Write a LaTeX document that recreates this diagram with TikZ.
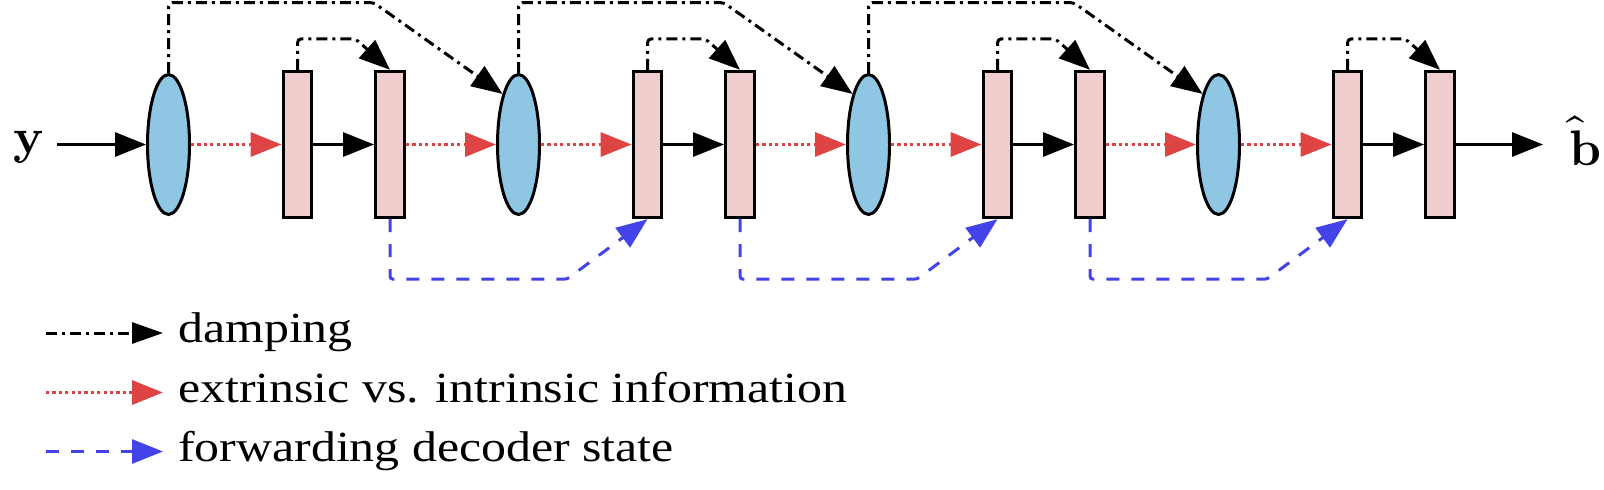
\documentclass[tikz,border=0pt]{standalone}
\usepackage{fontspec}
\usepackage{unicode-math}
\setmainfont{Liberation Serif}[FakeStretch=1.16]
\setmathfont{Latin Modern Math}
\usetikzlibrary{arrows.meta,shapes.geometric,calc}
\definecolor{ellfill}{RGB}{142,198,228}
\definecolor{blkfill}{RGB}{241,206,206}
\definecolor{redarr}{RGB}{222,68,68}
\definecolor{bluearr}{RGB}{67,67,232}
\tikzset{
  ellnode/.style={ellipse, draw=black, line width=3pt, fill=ellfill, minimum width=42pt, minimum height=140pt, inner sep=0pt},
  blknode/.style={rectangle, draw=black, line width=3.4pt, fill=blkfill, minimum width=28.5pt, minimum height=146pt, inner sep=0pt},
  bigtip/.style={-{Triangle[length=31pt,width=24pt]}},
  mainarr/.style={bigtip, line width=3pt, black},
  redarrow/.style={bigtip, line width=3.4pt, redarr, dash pattern=on 3.2pt off 3.2pt},
  damparr/.style={bigtip, line width=3pt, black, dash pattern=on 11pt off 5pt on 3pt off 5pt, rounded corners=4pt},
  bluearrow/.style={bigtip, line width=3pt, bluearr, dash pattern=on 13pt off 12pt, rounded corners=3pt},
  legtext/.style={anchor=base west, inner sep=0pt, font=\fontsize{43}{48}\selectfont},
  lbl/.style={inner sep=0pt, font=\fontsize{50}{54}\selectfont}
}
\begin{document}
\begin{tikzpicture}[x=1pt,y=-1pt]
\useasboundingbox (0,0) rectangle (1604,490);
% nodes
\foreach \k in {0,...,3}{
  \node[ellnode] (e\k) at ({168.5+350*\k},144.5) {};
  \node[blknode] (ra\k) at ({297.5+350*\k},144.5) {};
  \node[blknode] (rb\k) at ({390+350*\k},144.5) {};
}
\node[lbl, anchor=base] (ylab) at (28.5,153) {$\symbf{y}$};
\node[lbl, anchor=base west] (blab) at (1569,165) {$\hat{\symbf{b}}$};
\coordinate (yin) at (57,144.5);
\coordinate (bout) at (1543,144.5);
% main flow
\draw[mainarr] (yin) -- (e0);
\foreach \k in {0,...,3}{
  \draw[redarrow] (e\k) -- (ra\k);
  \draw[mainarr] (ra\k) -- (rb\k);
  \draw[damparr] (ra\k.north) -- ++(0,-31) -- ++(58,0) -- (rb\k.north);
}
\foreach \k/\n in {0/1,1/2,2/3}{
  \draw[redarrow] (rb\k) -- (e\n);
  \draw[damparr] (e\k.north) -- ($(e\k.center)+(0,-142)$) -- ($(e\k.center)+(205,-142)$) -- (e\n.north west);
  \draw[bluearrow] (rb\k.south) -- ++(0,60) -- ++(177,0) -- (ra\n.south);
}
\draw[mainarr] (rb3) -- (bout);
% legend
\coordinate (l1s) at (46,333);   \coordinate (l1e) at (163,333);
\coordinate (l2s) at (46,392.5); \coordinate (l2e) at (163,392.5);
\coordinate (l3s) at (46,451.5); \coordinate (l3e) at (163,451.5);
\draw[damparr, -{Triangle[length=31pt,width=21pt]}] (l1s) -- (l1e);
\draw[redarrow] (l2s) -- (l2e);
\draw[bluearrow] (l3s) -- (l3e);
\node[legtext] (t1) at (178,342.5) {damping};
\node[legtext] (t2) at (178,402) {extrinsic vs. intrinsic information};
\node[legtext] (t3) at (178,461) {forwarding decoder state};
\end{tikzpicture}
\end{document}
